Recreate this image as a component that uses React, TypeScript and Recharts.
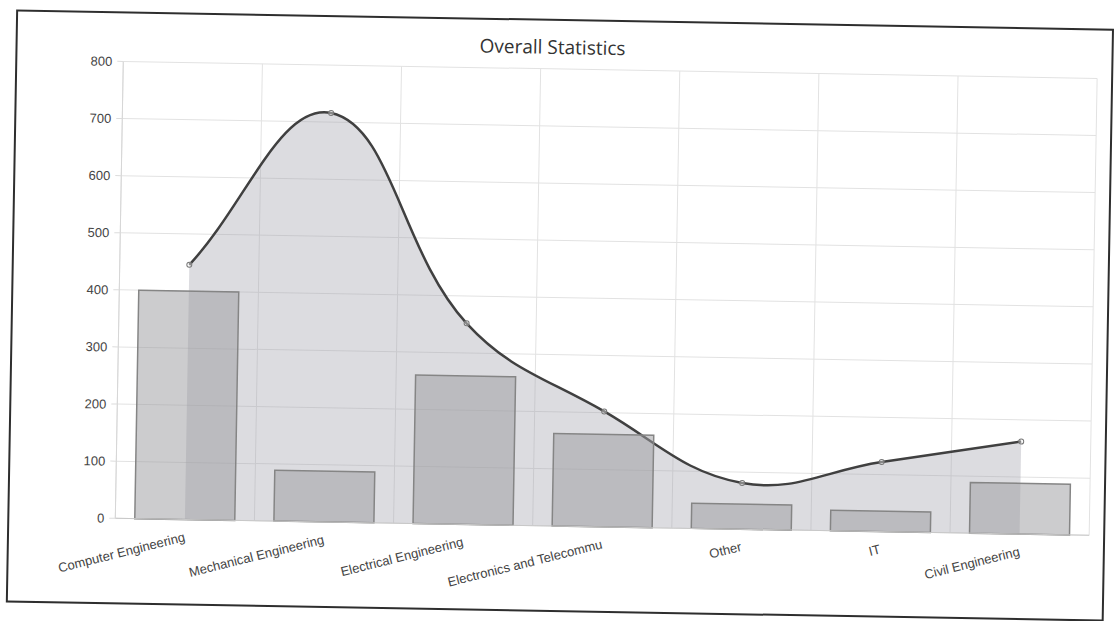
import React from "react";
import {
  ComposedChart,
  Bar,
  Area,
  XAxis,
  YAxis,
  CartesianGrid,
} from "recharts";

// ---------- data ----------
const categories = [
  "Computer Engineering",
  "Mechanical Engineering",
  "Electrical Engineering",
  "Electronics and Telecommu",
  "Other",
  "IT",
  "Civil Engineering",
];
const barValues = [400, 89, 260, 162, 44, 36, 89];
const lineValues = [446, 716, 352, 202, 81, 122, 162];
const yTicks = [0, 100, 200, 300, 400, 500, 600, 700, 800];
const titleText = "Overall Statistics";

const data = categories.map((name, i) => ({
  name,
  bar: barValues[i],
  line: lineValues[i],
}));

// ---------- Chart.js style spline (tension 0.4) as a d3 curve factory ----------
const TENSION = 0.4;
function chartJsCurve(context: any) {
  let pts: number[][] = [];
  let line = NaN;
  return {
    areaStart() {
      line = 0;
    },
    areaEnd() {
      line = NaN;
    },
    lineStart() {
      pts = [];
    },
    point(x: number, y: number) {
      pts.push([+x, +y]);
    },
    lineEnd() {
      const n = pts.length;
      if (n > 0) {
        if (line) context.lineTo(pts[0][0], pts[0][1]);
        else context.moveTo(pts[0][0], pts[0][1]);
        if (n > 2) {
          const ctrl = pts.map((p, i) => {
            const prev = pts[Math.max(i - 1, 0)];
            const next = pts[Math.min(i + 1, n - 1)];
            const d01 = Math.hypot(p[0] - prev[0], p[1] - prev[1]);
            const d12 = Math.hypot(next[0] - p[0], next[1] - p[1]);
            let s01 = d01 / (d01 + d12);
            let s12 = d12 / (d01 + d12);
            if (!isFinite(s01)) s01 = 0;
            if (!isFinite(s12)) s12 = 0;
            const fa = TENSION * s01;
            const fb = TENSION * s12;
            return {
              px: p[0] - fa * (next[0] - prev[0]),
              py: p[1] - fa * (next[1] - prev[1]),
              nx: p[0] + fb * (next[0] - prev[0]),
              ny: p[1] + fb * (next[1] - prev[1]),
            };
          });
          for (let i = 1; i < n; i++) {
            context.bezierCurveTo(
              ctrl[i - 1].nx,
              ctrl[i - 1].ny,
              ctrl[i].px,
              ctrl[i].py,
              pts[i][0],
              pts[i][1]
            );
          }
        } else {
          for (let i = 1; i < n; i++) context.lineTo(pts[i][0], pts[i][1]);
        }
      }
      if (line || (line !== 0 && n === 1)) context.closePath();
      line = 1 - line;
    },
  };
}

// ---------- layout constants ----------
const W = 1114;
const H = 621;
const PLOT_LEFT = 119;
const PLOT_TOP = 69;
const PLOT_W = 974;
const PLOT_H = 457;
const Y_AXIS_W = 50;
const X_AXIS_H = 60;

const tickFont = "'Liberation Sans', Arial, Helvetica, sans-serif";

const XTick = (props: any) => {
  const { x, y, payload } = props;
  return (
    <g transform={`translate(${x},${y})`}>
      <text
        x={0}
        y={0}
        dy="0.35em"
        textAnchor="end"
        transform="rotate(-15)"
        fill="#444"
        fontSize={13}
        fontFamily={tickFont}
      >
        {payload.value}
      </text>
    </g>
  );
};

const verticalGen = (props: any) => {
  const off = props && props.offset ? props.offset : null;
  const left = off ? off.left : PLOT_LEFT;
  const width = off ? off.width : PLOT_W;
  const n = categories.length;
  return Array.from({ length: n + 1 }, (_, i) => left + (width * i) / n);
};

export default function App() {
  return (
    <div
      style={{
        position: "fixed",
        left: 0,
        top: 0,
        width: W,
        height: H,
        overflow: "hidden",
        background: "#ffffff",
      }}
    >
      <div
        style={{
          position: "absolute",
          left: 0,
          top: 0,
          width: W,
          height: H,
          transform: "rotate(1deg)",
          transformOrigin: "557px 310.5px",
        }}
      >
        <div
          style={{
            position: "absolute",
            left: 11,
            top: 19,
            width: 1098,
            height: 593,
            border: "2px solid #2e2e2e",
            boxSizing: "border-box",
          }}
        />
        <div style={{ position: "absolute", left: 0, top: 0 }}>
          <ComposedChart
            width={W}
            height={H}
            data={data}
            margin={{
              top: PLOT_TOP,
              left: PLOT_LEFT - Y_AXIS_W,
              right: W - PLOT_LEFT - PLOT_W,
              bottom: H - PLOT_TOP - PLOT_H - X_AXIS_H,
            }}
            barCategoryGap="14%"
          >
            <CartesianGrid
              stroke="#e2e2e2"
              strokeWidth={1}
              verticalCoordinatesGenerator={verticalGen}
            />
            <XAxis
              dataKey="name"
              type="category"
              height={X_AXIS_H}
              interval={0}
              tickSize={0}
              tickMargin={17}
              tickLine={false}
              axisLine={{ stroke: "#c8c8c8", strokeWidth: 1 }}
              tick={<XTick />}
            />
            <YAxis
              width={Y_AXIS_W}
              domain={[0, 800]}
              ticks={yTicks}
              interval={0}
              tickSize={6}
              tickMargin={5}
              tickLine={{ stroke: "#dcdcdc" }}
              axisLine={{ stroke: "#d6d6d6" }}
              tick={{ fill: "#444", fontSize: 13, fontFamily: tickFont }}
            />
            <Area
              dataKey="line"
              type={chartJsCurve as any}
              fill="#a2a2ae"
              fillOpacity={0.38}
              stroke="#404040"
              strokeWidth={2.5}
              dot={{ r: 2.5, fill: "#ffffff", stroke: "#777", strokeWidth: 1 }}
              activeDot={false}
              isAnimationActive={false}
            />
            <Bar
              dataKey="bar"
              fill="#9e9ea2"
              fillOpacity={0.52}
              stroke="#858585"
              strokeWidth={1.5}
              isAnimationActive={false}
            />
          </ComposedChart>
        </div>
        <div
          style={{
            position: "absolute",
            left: 0,
            top: 34,
            width: 1096,
            textAlign: "center",
            fontFamily: "'Open Sans', sans-serif",
            fontSize: 19,
            lineHeight: "26px",
            color: "#333",
          }}
        >
          {titleText}
        </div>
      </div>
    </div>
  );
}
